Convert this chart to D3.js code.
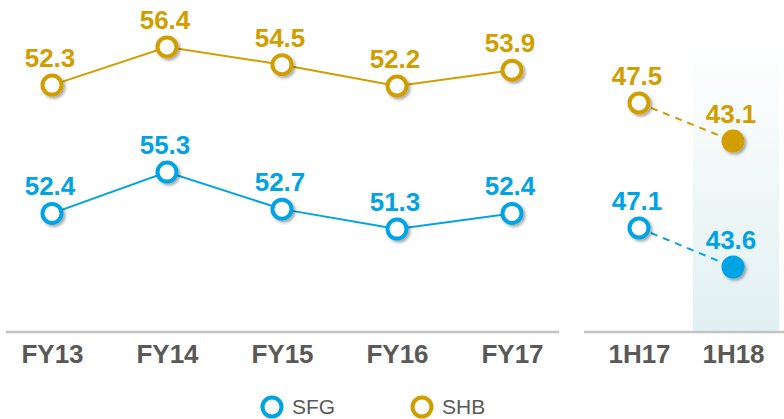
<!DOCTYPE html>
<html>
<head>
<meta charset="utf-8">
<script src="https://cdn.jsdelivr.net/npm/d3@7"></script>
<style>
  body { margin: 0; background: #fff; }
  text { font-family: Arial, "Liberation Sans", sans-serif; }
</style>
</head>
<body>
<div id="chart"></div>
<script>
// data
var fyYears = ['FY13', 'FY14', 'FY15', 'FY16', 'FY17'];
var halfYears = ['1H17', '1H18'];
var sfgFY = [52.4, 55.3, 52.7, 51.3, 52.4];
var shbFY = [52.3, 56.4, 54.5, 52.2, 53.9];
var sfgHalf = [47.1, 43.6];
var shbHalf = [47.5, 43.1];
var seriesNames = ['SFG', 'SHB'];

var width = 784, height = 419;
var blue = '#00a3e4', gold = '#d19e00';

var svg = d3.select('#chart')
  .append('svg')
    .attr('width', width)
    .attr('height', height);

// drop shadow for markers
var defs = svg.append('defs');
defs.append('filter')
    .attr('id', 'shadow')
    .attr('x', '-50%').attr('y', '-50%')
    .attr('width', '200%').attr('height', '200%')
  .append('feDropShadow')
    .attr('dx', 2).attr('dy', 2)
    .attr('stdDeviation', 1.5)
    .attr('flood-color', '#000')
    .attr('flood-opacity', 0.35);

var grad = defs.append('linearGradient')
    .attr('id', 'shade')
    .attr('x1', 0).attr('y1', 0).attr('x2', 0).attr('y2', 1);
grad.append('stop').attr('offset', '0%').attr('stop-color', '#ffffff');
grad.append('stop').attr('offset', '100%').attr('stop-color', '#e1f0f2');

var baseY = 332;

// x scales (two panels)
var xFY = d3.scalePoint().domain(fyYears).range([52, 512]);
var xHalf = d3.scalePoint().domain(halfYears).range([639, 733]);

// y scales: each series sits on its own band
var yShbFY = d3.scaleLinear().domain([50, 58]).range([106.5, 32.1]);
var ySfgFY = d3.scaleLinear().domain([50, 56]).range([247.6, 162.1]);
var yShbHalf = d3.scaleLinear().domain([40, 50]).range([167.8, 81.4]);
var ySfgHalf = d3.scaleLinear().domain([40, 50]).range([307.1, 195.7]);

// shaded column behind 1H18
svg.append('rect')
    .attr('x', xHalf('1H18') - 40)
    .attr('y', 40)
    .attr('width', 86)
    .attr('height', baseY - 40)
    .attr('fill', 'url(#shade)');

// axes (baseline + labels only)
function drawAxis(scale, x0, x1) {
  var g = svg.append('g')
      .attr('transform', 'translate(0,' + baseY + ')')
      .call(d3.axisBottom(scale).tickSize(0).tickPadding(13));
  g.select('.domain').remove();
  g.append('line')
      .attr('x1', x0).attr('x2', x1)
      .attr('y1', 0).attr('y2', 0)
      .attr('stroke', '#c4c4c4')
      .attr('stroke-width', 2.5);
  g.selectAll('text')
      .attr('fill', '#595959')
      .style('font-size', '26px')
      .style('font-weight', 'bold')
      .style('font-family', 'Arial, "Liberation Sans", sans-serif');
}
drawAxis(xFY, 6, 559);
drawAxis(xHalf, 584, 784);

function drawSeries(cats, values, x, y, color, dashed, filledLast) {
  var pts = cats.map(function(c, i) { return {cat: c, value: values[i], i: i}; });
  var line = d3.line()
    .x(function(d) { return x(d.cat); })
    .y(function(d) { return y(d.value); });
  svg.append('path')
      .datum(pts)
      .attr('d', line)
      .attr('fill', 'none')
      .attr('stroke', color)
      .attr('stroke-width', 2)
      .attr('stroke-dasharray', dashed ? '7,6' : null);

  svg.selectAll(null)
      .data(pts)
      .enter()
      .append('circle')
        .attr('cx', function(d) { return x(d.cat); })
        .attr('cy', function(d) { return y(d.value); })
        .attr('r', function(d) { return (filledLast && d.i === pts.length - 1) ? 11.5 : 9.5; })
        .attr('fill', function(d) { return (filledLast && d.i === pts.length - 1) ? color : '#fff'; })
        .attr('stroke', color)
        .attr('stroke-width', function(d) { return (filledLast && d.i === pts.length - 1) ? 0 : 4; })
        .attr('filter', 'url(#shadow)');

  svg.selectAll(null)
      .data(pts)
      .enter()
      .append('text')
        .text(function(d) { return d.value.toFixed(1); })
        .attr('x', function(d) { return x(d.cat) - 2; })
        .attr('y', function(d) { return y(d.value) - 18; })
        .attr('text-anchor', 'middle')
        .attr('fill', color)
        .style('font-size', '26px')
        .style('font-weight', 'bold');
}

drawSeries(fyYears, shbFY, xFY, yShbFY, gold, false, false);
drawSeries(fyYears, sfgFY, xFY, ySfgFY, blue, false, false);
drawSeries(halfYears, shbHalf, xHalf, yShbHalf, gold, true, true);
drawSeries(halfYears, sfgHalf, xHalf, ySfgHalf, blue, true, true);

// legend
var legend = svg.selectAll('.legend')
  .data(seriesNames)
  .enter()
  .append('g')
    .attr('transform', function(d, i) { return 'translate(' + (272 + i * 150) + ',407)'; });
legend.append('circle')
    .attr('r', 9.5)
    .attr('fill', '#fff')
    .attr('stroke', function(d, i) { return i === 0 ? blue : gold; })
    .attr('stroke-width', 4);
legend.append('text')
    .attr('x', 20)
    .attr('y', 7)
    .text(function(d) { return d; })
    .attr('fill', '#595959')
    .style('font-size', '21px');
</script>
</body>
</html>
